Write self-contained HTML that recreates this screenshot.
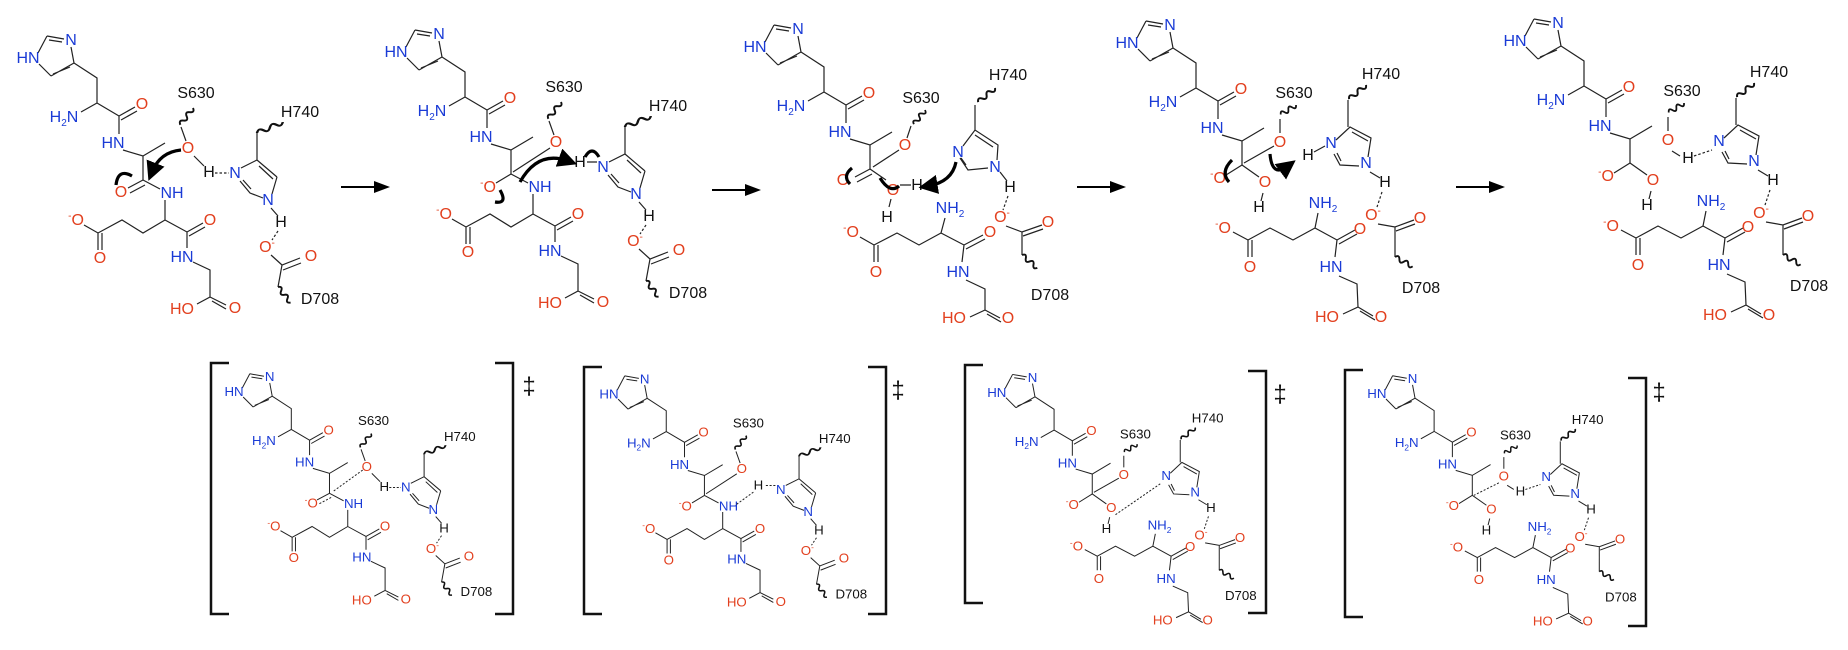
<!DOCTYPE html>
<html><head><meta charset="utf-8"><style>
html,body{margin:0;padding:0;background:#fff;}
svg{display:block;}
text{font-family:"Liberation Sans",Arial,sans-serif;font-size:16px;text-anchor:middle;}
.b{fill:#1a3bd6}.r{fill:#e2401f}.k{fill:#111}
.l{stroke:#222;stroke-width:1.2;fill:none}
.d{stroke:#222;stroke-width:1.2;fill:none;stroke-dasharray:2.5,2}
.w{stroke:#111;stroke-width:1.9;fill:none}
.a{stroke:#000;stroke-width:3.2;fill:none}
</style></head><body>
<svg width="1848" height="650" viewBox="0 0 1848 650" xmlns="http://www.w3.org/2000/svg">
<defs>
<marker id="ah" markerWidth="6" markerHeight="6" refX="3" refY="3" orient="auto" markerUnits="strokeWidth"><path d="M0,0 L6,3 L0,6 z" fill="#000"/></marker>
<marker id="ah2" markerWidth="8" markerHeight="8" refX="6" refY="4" orient="auto" markerUnits="strokeWidth"><path d="M0,1 L8,4 L0,7 z" fill="#000"/></marker>
<path id="wv" class="w" d="M0,0 q2.5,-4.5 5,0 t5,0 t5,0 t5,0"/>
<g id="top">
<path class="l" d="M38,53 L47,36 M47,36 L64,39 M49,40 L62,42 M71,47 L74,63 M74,63 L51,76 M70,67 L53,74 M51,76 L39,64 M74,63 L97,78 L97,103 M97,103 L81,112 M97,103 L119,116 M119,116 L135,107 M121,120 L137,111 M119,116 L119,134 M123,150 L143,156 L165,143 M143,156 L143,180"/>
<text class="b" x="28" y="63">HN</text><text class="b" x="71" y="45">N</text>
<text class="b" x="64" y="122">H<tspan font-size="10" dy="4">2</tspan><tspan dy="-4">N</tspan></text>
<text class="r" x="142" y="109">O</text><text class="b" x="113" y="148">HN</text>
</g>
<g id="A">
<use href="#top"/>
<path class="l" d="M143,180 L160,189 M165,200 L165,220 M165,220 L187,232 L203,223 M189,236 L205,227 M187,232 L187,248 M193,262 L210,270 L210,297 L197,304 M210,297 L226,305 M212,301 L226,309 M165,220 L143,233 L122,220 L98,233 L84,225 M98,233 L98,250 M102,233 L102,250"/>
<text class="b" x="172" y="198">NH</text><text class="r" x="210" y="225">O</text><text class="b" x="182" y="262">HN</text>
<text class="r" x="182" y="314">HO</text><text class="r" x="235" y="313">O</text>
<text class="r" x="76" y="225"><tspan font-size="10" dy="-6">-</tspan><tspan dy="6">O</tspan></text><text class="r" x="100" y="263">O</text>
<text class="k" x="196" y="98">S630</text>
<use href="#wv" transform="translate(193,108) rotate(127) scale(1.05,1)"/>
<path class="l" d="M181,127 L186,141"/><text class="r" x="188" y="153">O</text>
<path class="l" d="M241,168 L257,160 L277,177 M259,166 L273,179 M277,177 L272,194 M263,198 L250,193 L240,181 M251,189 L243,180 M257,160 L257,133 M271,208 L278,216 M271,255 L282,265 L300,258 M283,270 L301,263 M282,265 L278,287"/>
<use href="#wv" transform="translate(257,133) rotate(-23) scale(1.4,1)"/>
<use href="#wv" transform="translate(278,287) rotate(51)"/>
<text class="k" x="300" y="117">H740</text><text class="b" x="235" y="178">N</text><text class="b" x="268" y="205">N</text>
<text class="k" x="281" y="227">H</text><path class="d" d="M278,231 L272,240"/>
<text class="r" x="267" y="252"><tspan dx="0">O</tspan><tspan font-size="10" dy="-6">-</tspan></text>
<text class="r" x="311" y="261">O</text><text class="k" x="320" y="304">D708</text>
</g>
<g id="B">
<use href="#top" transform="translate(1099,-15)"/>
<path class="l" d="M1242,165 L1226,175 M1242,165 L1259,177 M1263,193 L1261,201 M1280,119 L1280,133 M1348,100 L1348,127 M1336,140 L1350,127 L1371,138 L1368,157 M1352,132 L1368,141 M1359,166 L1340,165 L1334,154 M1341,161 L1337,153 M1370,172 L1380,178 M1378,224 L1395,227 L1414,220 M1396,231 L1415,224 M1395,227 L1395,257 M1318,213 L1315,228 M1315,228 L1293,240 L1270,228 L1248,240 L1233,232 M1248,240 L1248,257 M1252,240 L1252,257 M1315,228 L1337,240 L1355,230 M1339,244 L1357,234 M1337,240 L1335,257 M1339,276 L1357,284 L1358,307 L1343,314 M1358,307 L1373,316 M1360,311 L1375,320"/>
<text class="r" x="1218" y="183"><tspan font-size="10" dy="-6">-</tspan><tspan dy="6">O</tspan></text>
<text class="r" x="1265" y="187">O</text><text class="k" x="1259" y="212">H</text>
<text class="k" x="1294" y="98">S630</text>
<use href="#wv" transform="translate(1296,105) rotate(148) scale(.9,1)"/>
<text class="r" x="1280" y="147">O</text>
<text class="k" x="1381" y="79">H740</text>
<use href="#wv" transform="translate(1366,85) rotate(140) scale(1.1,1)"/>
<text class="b" x="1331" y="148">N</text><text class="b" x="1366" y="168">N</text>
<text class="k" x="1385" y="187">H</text><path class="d" d="M1382,192 L1377,207"/>
<text class="r" x="1373" y="220">O<tspan font-size="10" dy="-6">-</tspan></text>
<text class="r" x="1420" y="223">O</text>
<use href="#wv" transform="translate(1395,257) rotate(28)"/>
<text class="k" x="1421" y="293">D708</text>
<text class="b" x="1323" y="208">NH<tspan font-size="10" dy="4">2</tspan></text>
<text class="r" x="1223" y="233"><tspan font-size="10" dy="-6">-</tspan><tspan dy="6">O</tspan></text>
<text class="r" x="1250" y="272">O</text><text class="r" x="1360" y="234">O</text>
<text class="b" x="1331" y="272">HN</text><text class="r" x="1327" y="322">HO</text><text class="r" x="1381" y="322">O</text>
</g>
</defs>

<use href="#A"/>
<path class="l" d="M143,180 L128,188 M145,185 L130,193 M194,156 L204,166"/>
<text class="r" x="121" y="197">O</text><text class="k" x="209" y="177">H</text>
<path class="d" d="M215,173 L229,173"/>
<path class="a" d="M181,150 Q160,152 152,172" marker-end="url(#ah)"/>
<path class="a" d="M116,185 Q118,168 132,176" stroke-width="2.6"/>

<use href="#A" transform="translate(368,-6)"/>
<path class="l" d="M511,174 L496,183 M550,148 L513,172 M587,162 L597,162"/>
<text class="r" x="488" y="192"><tspan font-size="10" dy="-6">-</tspan><tspan dy="6">O</tspan></text>
<text class="k" x="580" y="167">H</text>
<path class="a" d="M520,182 Q538,150 568,161" marker-end="url(#ah)"/>
<path class="a" d="M585,157 Q592,145 599,157" stroke-width="2.4"/>
<path class="a" d="M500,190 Q508,204 495,202" stroke-width="2.6"/>

<use href="#top" transform="translate(727,-11)"/>
<path class="l" d="M870,169 L855,177 M872,174 L857,182 M870,169 L886,180 M891,199 L889,207 M911,126 L907,138 M899,150 L873,167 M900,185 L911,185 M945,218 L941,233 M941,233 L919,245 L897,233 L874,245 L860,237 M874,245 L874,262 M878,245 L878,262 M941,233 L964,245 L983,235 M966,249 L985,239 M964,245 L962,262 M966,280 L985,289 L985,310 L970,317 M985,310 L1000,318 M987,314 L1001,322 M975,105 L975,130 M963,146 L975,130 L998,145 L997,160 M975,135 L993,147 M988,168 L968,170 L960,158 M966,165 L961,158 M1000,172 L1007,181 M1006,226 L1022,232 L1042,225 M1023,236 L1043,229 M1022,232 L1022,255"/>
<text class="r" x="843" y="185">O</text><text class="r" x="893" y="195">O</text><text class="k" x="887" y="222">H</text>
<text class="k" x="921" y="103">S630</text>
<use href="#wv" transform="translate(925,110) rotate(128) scale(.9,1)"/>
<text class="r" x="905" y="150">O</text><text class="k" x="917" y="190">H</text>
<text class="b" x="950" y="213">NH<tspan font-size="10" dy="4">2</tspan></text>
<text class="r" x="851" y="237"><tspan font-size="10" dy="-6">-</tspan><tspan dy="6">O</tspan></text>
<text class="r" x="876" y="277">O</text><text class="r" x="990" y="237">O</text>
<text class="b" x="958" y="277">HN</text><text class="r" x="954" y="323">HO</text><text class="r" x="1008" y="323">O</text>
<text class="k" x="1008" y="80">H740</text>
<use href="#wv" transform="translate(995,88) rotate(140) scale(1.1,1)"/>
<text class="b" x="958" y="157">N</text><text class="b" x="995" y="172">N</text>
<text class="k" x="1010" y="192">H</text><path class="d" d="M1008,196 L1003,210"/>
<text class="r" x="1002" y="222">O<tspan font-size="10" dy="-6">-</tspan></text>
<text class="r" x="1048" y="227">O</text>
<use href="#wv" transform="translate(1022,255) rotate(40)"/>
<text class="k" x="1050" y="300">D708</text>
<path class="a" d="M956,162 Q952,182 928,186" marker-end="url(#ah)"/>
<path class="a" d="M852,168 Q842,176 850,184" stroke-width="2.6"/>
<path class="a" d="M880,178 Q890,194 899,186" stroke-width="2.6"/>

<use href="#B"/>
<path class="l" d="M1274,146 L1244,163 M1314,152 L1325,146"/>
<text class="k" x="1308" y="160">H</text>
<path class="a" d="M1232,160 Q1220,172 1229,182" stroke-width="2.6"/>
<path class="a" d="M1270,154 Q1272,178 1288,166" marker-end="url(#ah)"/>

<use href="#B" transform="translate(388,-2)"/>
<path class="l" d="M1672,151 L1680,156"/>
<text class="k" x="1688" y="163">H</text>
<path class="d" d="M1694,156 L1712,150"/>

<path d="M341,187 L386,187" stroke="#000" stroke-width="2" marker-end="url(#ah2)"/>
<path d="M712,190 L757,190" stroke="#000" stroke-width="2" marker-end="url(#ah2)"/>
<path d="M1077,187 L1122,187" stroke="#000" stroke-width="2" marker-end="url(#ah2)"/>
<path d="M1456,187 L1501,187" stroke="#000" stroke-width="2" marker-end="url(#ah2)"/>

<g transform="translate(210.8,343.9) scale(.83)">
<use href="#A"/>
<path class="l" d="M143,180 L128,188 M194,156 L204,166"/>
<path class="d" d="M145,185 L130,193 M183,152 L147,178 M215,173 L229,173"/>
<text class="r" x="121" y="197"><tspan font-size="10" dy="-6">-</tspan><tspan dy="6">O</tspan></text>
<text class="k" x="209" y="177">H</text>
</g>
<g transform="translate(280.3,351) scale(.83)">
<use href="#A" transform="translate(368,-6)"/>
<path class="l" d="M511,174 L496,183 M550,148 L513,172"/>
<path class="d" d="M585,162 L597,162 M570,170 L548,186"/>
<text class="r" x="488" y="192"><tspan font-size="10" dy="-6">-</tspan><tspan dy="6">O</tspan></text>
<text class="k" x="576" y="167">H</text>
</g>
<g transform="translate(61.4,357) scale(.83)">
<use href="#B"/>
<path class="l" d="M1274,146 L1244,163"/>
<path class="d" d="M1270,190 L1325,152"/>
</g>
<g transform="translate(119.4,360) scale(.83)">
<use href="#B" transform="translate(388,-2)"/>
<path class="l" d="M1672,151 L1680,156"/>
<path class="d" d="M1662,148 L1632,163 M1694,156 L1712,150"/>
<text class="k" x="1688" y="163">H</text>
</g>

<g fill="none" stroke="#111" stroke-width="2.5">
<path d="M229,363 L211,363 L211,614 L229,614"/>
<path d="M495,363 L513,363 L513,614 L495,614"/>
<path d="M602,367 L584,367 L584,614 L602,614"/>
<path d="M868,367 L886,367 L886,614 L868,614"/>
<path d="M983,365 L965,365 L965,603 L983,603"/>
<path d="M1248,371 L1266,371 L1266,613 L1248,613"/>
<path d="M1363,370 L1345,370 L1345,617 L1363,617"/>
<path d="M1628,378 L1646,378 L1646,626 L1628,626"/>
</g>
<text class="k" x="529" y="394" style="font-size:24px">‡</text>
<text class="k" x="898" y="398" style="font-size:24px">‡</text>
<text class="k" x="1280" y="402" style="font-size:24px">‡</text>
<text class="k" x="1659" y="400" style="font-size:24px">‡</text>
</svg>
</body></html>
